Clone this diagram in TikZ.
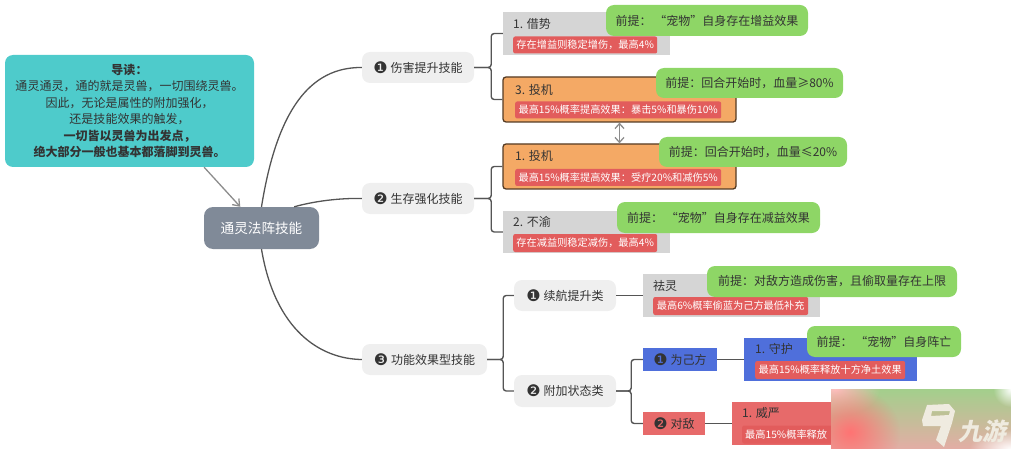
\documentclass[tikz,border=0pt]{standalone}
\usepackage{fontspec}
\usepackage{xcolor}
\usetikzlibrary{arrows.meta,fadings}
\setmainfont{Noto Sans CJK SC}
\newfontfamily\symfont{DejaVu Sans}
\newcommand{\numcirc}[1]{{\symfont\fontsize{16}{14}\selectfont\raisebox{-1pt}{#1}}\hspace{3pt}}

\definecolor{notecol}{HTML}{4ECBCB}
\definecolor{rootcol}{HTML}{808A98}
\definecolor{topiccol}{HTML}{EFEFEF}
\definecolor{greycol}{HTML}{D5D5D5}
\definecolor{orangecol}{HTML}{F4A965}
\definecolor{tagcol}{HTML}{E25C5C}
\definecolor{hintcol}{HTML}{8ED666}
\definecolor{bluecol}{HTML}{4F6FDB}
\definecolor{redcol}{HTML}{E76A6A}
\definecolor{linecol}{HTML}{555555}
\definecolor{textcol}{HTML}{333333}
\definecolor{blurtop}{HTML}{A3CF8C}
\definecolor{blurmid}{HTML}{C9C7A6}
\definecolor{blurlow}{HTML}{E3ADA5}
\definecolor{logocol}{HTML}{EFEBE0}
\tikzfading[name=softout,inner color=transparent!0,outer color=transparent!100]

\tikzset{
    base/.style={inner sep=0pt,text=textcol,font=\fontsize{12}{14}\selectfont},
    topic/.style={base,fill=topiccol,rounded corners=8pt,minimum height=31pt},
    greybox/.style={base,fill=greycol,minimum height=43pt},
    orangebox/.style={base,fill=orangecol,draw=black!65!orangecol,line width=1.3pt,rounded corners=3pt,minimum height=45pt},
    flatbox/.style={base,minimum height=23pt},
    title/.style={base,anchor=west},
    tag/.style={base,fill=tagcol,rounded corners=2pt,text=white,minimum height=17pt,anchor=west,font=\fontsize{10.2}{12}\selectfont},
    hint/.style={base,fill=hintcol,rounded corners=8pt,minimum height=31pt},
    branch/.style={draw=linecol,line width=1.3pt},
    bracket/.style={draw=linecol,line width=1.4pt,rounded corners=3pt},
    pointer/.style={draw=black!45,line width=1.3pt}
}

\begin{document}
\begin{tikzpicture}[x=1pt,y=-1pt]
    \useasboundingbox (0,0) rectangle (1011,449);

    \node[base,fill=notecol,rounded corners=8pt,minimum width=249pt,minimum height=112pt,align=center] (note) at (129.5,111)
        {\textbf{导读：}\\[2.4pt]通灵通灵，通的就是灵兽，一切围绕灵兽。\\[2.4pt]因此，无论是属性的附加强化，\\[2.4pt]还是技能效果的触发，\\[2.4pt]\textbf{一切皆以灵兽为出发点，}\\[2.4pt]\textbf{绝大部分一般也基本都落脚到灵兽。}};
    \node[base,fill=rootcol,rounded corners=9pt,text=white,minimum width=115pt,minimum height=42pt,font=\fontsize{13.6}{16}\selectfont] (root) at (261.5,228) {通灵法阵技能};
    \draw[pointer,-{Straight Barb[length=6pt,width=9pt]}] (note.-37) -- (root.135);

    \node[topic,minimum width=112pt] (damage) at (418,67.5) {\numcirc{❶}伤害提升技能};
    \node[topic,minimum width=112pt] (survive) at (418,198.5) {\numcirc{❷}生存强化技能};
    \node[topic,minimum width=125pt] (effect) at (424.5,359.5) {\numcirc{❸}功能效果型技能};
    \draw[branch] (root.north) .. controls (277,110) and (310,67) .. (damage.west);
    \draw[branch] (root.33) .. controls (315,201) and (340,198) .. (survive.west);
    \draw[branch] (root.south) .. controls (275,330) and (320,359) .. (effect.west);

    % first branch
    \node[greybox,minimum width=167pt] (jieshi) at (586.5,33.5) {};
    \node[title] (jieshititle) at (513,24) {1. 借势};
    \node[tag,minimum width=144pt] (jieshitag) at (513,45) {存在增益则稳定增伤，最高4\%};
    \node[hint,minimum width=202pt] (jieshihint) at (707,20.5) {前提： “宠物”自身存在增益效果};
    \node[orangebox,minimum width=233pt] (touji) at (619.5,99.5) {};
    \node[title] (toujititle) at (515,90) {3. 投机};
    \node[tag,minimum width=206pt] (toujitag) at (515,110) {最高15\%概率提高效果：暴击5\%和暴伤10\%};
    \node[hint,minimum width=187pt,minimum height=30pt] (toujihint) at (749.5,83) {前提：回合开始时，血量≥80\%};
    \draw[bracket] (damage.east) -- ++(17,0) |- (jieshi.west);
    \draw[bracket] (damage.east) -- ++(17,0) |- (touji.west);

    % second branch
    \node[orangebox,minimum width=233pt] (toujib) at (619.5,166.5) {};
    \node[title] (toujibtitle) at (515,156) {1. 投机};
    \node[tag,minimum width=206pt] (toujibtag) at (515,177.5) {最高15\%概率提高效果：受疗20\%和减伤5\%};
    \node[hint,minimum width=188pt,minimum height=30pt] (toujibhint) at (753,152) {前提：回合开始时，血量≤20\%};
    \node[greybox,minimum width=167pt,minimum height=42pt] (buyu) at (586.5,232) {};
    \node[title] (buyutitle) at (513,222) {2. 不渝};
    \node[tag,minimum width=144pt,minimum height=18pt] (buyutag) at (513,243) {存在减益则稳定减伤，最高4\%};
    \node[hint,minimum width=203pt] (buyuhint) at (718.5,217.5) {前提： “宠物”自身存在减益效果};
    \draw[bracket] (survive.east) -- ++(17,0) |- (toujib.west);
    \draw[bracket] (survive.east) -- ++(17,0) |- (buyu.west);
    \draw[pointer,{Straight Barb[length=5pt,width=9pt]}-{Straight Barb[length=5pt,width=9pt]}] (touji.south) -- (toujib.north);

    % third branch
    \node[topic,minimum width=102pt] (sustain) at (565,295.5) {\numcirc{❶}续航提升类};
    \node[topic,minimum width=102pt,minimum height=32pt] (status) at (565,391) {\numcirc{❷}附加状态类};
    \draw[bracket] (effect.east) -- ++(16,0) |- (sustain.west);
    \draw[bracket] (effect.east) -- ++(16,0) |- (status.west);

    \node[greybox,minimum width=177pt] (quling) at (731.5,295.5) {};
    \node[title] (qulingtitle) at (653,286) {祛灵};
    \node[tag,minimum width=155pt,minimum height=18pt] (qulingtag) at (653,306) {最高6\%概率偷蓝为己方最低补充};
    \node[hint,minimum width=250pt] (qulinghint) at (832,281.5) {前提：对敌方造成伤害，且偷取量存在上限};
    \draw[bracket] (sustain.east) -- (quling.west);

    \node[flatbox,fill=bluecol,minimum width=74pt] (self) at (680,359.5) {\numcirc{❶}为己方};
    \node[flatbox,fill=redcol,minimum width=62pt] (enemy) at (674,423.5) {\numcirc{❷}对敌};
    \draw[bracket] (status.east) -- ++(15,0) |- (self.west);
    \draw[bracket] (status.east) -- ++(15,0) |- (enemy.west);

    \node[greybox,fill=bluecol,minimum width=173pt] (shouhu) at (830.5,359.5) {};
    \node[title] (shouhutitle) at (755,349) {1. 守护};
    \node[tag,minimum width=150pt,minimum height=18pt] (shouhutag) at (755,370) {最高15\%概率释放十方净土效果};
    \node[hint,minimum width=154pt] (shouhuhint) at (884,341.5) {前提： “宠物”自身阵亡};
    \draw[bracket] (self.east) -- (shouhu.west);

    \node[greybox,fill=redcol,minimum width=170pt] (weiyan) at (817,423.5) {};
    \node[title] (weiyantitle) at (742,413) {1. 威严};
    \node[tag,text width=110pt,minimum height=18pt,align=left] (weiyantag) at (742,434.5) {\hspace{3pt}最高15\%概率释放};
    \draw[bracket] (enemy.east) -- (weiyan.west);

    % blurred corner
    \begin{scope}
        \clip (831,389) rectangle (1011,449);
        \shade[top color=blurtop,middle color=blurmid,bottom color=blurlow] (831,389) rectangle (1011,449);
        \fill[white!75!red,path fading=softout] (835,389) ellipse (45 and 28);
        \fill[red!55!white,path fading=softout] (850,432) ellipse (50 and 45);
        \fill[white,path fading=softout] (1011,449) ellipse (42 and 20);
        \fill[white,path fading=softout] (1011,389) ellipse (18 and 18);
    \end{scope}
    \fill[logocol,even odd rule] (927,405) -- (949,404) -- (955,411) -- (952,423) -- (944,447) -- (936,440) -- (941,426) -- (923,426) -- (922,420) -- cycle
        (932,411) -- (950,411) -- (949,415) -- (931,416) -- cycle;
    \path (984,431) node[base,text=logocol,xslant=0.2,transform shape,font=\bfseries\fontsize{24}{28}\selectfont] (logotext) {九游};
\end{tikzpicture}
\end{document}
